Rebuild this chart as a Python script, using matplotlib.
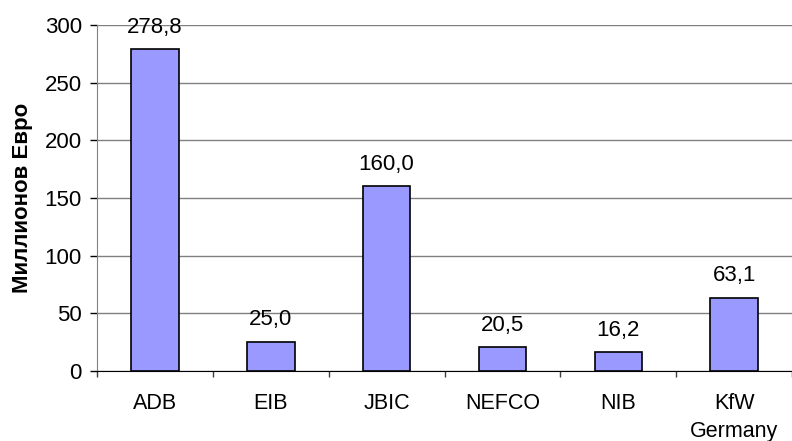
import numpy as np
from matplotlib import pyplot as plt

plt.rcParams['font.family'] = ['Liberation Sans', 'DejaVu Sans']

banks = ['ADB', 'EIB', 'JBIC', 'NEFCO', 'NIB', 'KfW\nGermany']
amounts = [278.8, 25.0, 160.0, 20.5, 16.2, 63.1]
yticks = [0, 50, 100, 150, 200, 250, 300]

fig = plt.figure(figsize=(7.92, 4.41), dpi=100)
ax = fig.add_axes([0.1225, 0.1587, 0.8775, 0.7846])

x = np.arange(len(banks))
ax.bar(x, amounts, width=0.41, color='#9999FF', edgecolor='black', linewidth=1.2, zorder=3)

for xi, v in zip(x, amounts):
    ax.annotate(('%.1f' % v).replace('.', ','), (xi, v), xytext=(0, 8.5),
                textcoords='offset points', ha='center', va='bottom', fontsize=16)

ax.set_xlim(-0.5, len(banks) - 0.5)
ax.set_ylim(0, 300)
ax.set_yticks(yticks)
ax.tick_params(axis='y', labelsize=16, length=5, width=1, pad=6)
ax.yaxis.grid(True, color='#808080', linewidth=1, zorder=0)

# category labels between boundary ticks
ax.set_xticks(x)
ax.set_xticklabels(banks, fontsize=15.5, linespacing=1.45, va='top')
ax.tick_params(axis='x', length=0, pad=16)
ax.set_xticks(np.arange(len(banks) + 1) - 0.5, minor=True)
ax.tick_params(axis='x', which='minor', length=4.5, width=1, color='#404040')

for side in ['top', 'right']:
    ax.spines[side].set_visible(False)
ax.spines['left'].set_color('#808080')
ax.spines['bottom'].set_color('black')

ax.set_ylabel('Миллионов Евро', fontsize=16, fontweight='bold', labelpad=8)

fig.savefig('out.png', dpi=100)
